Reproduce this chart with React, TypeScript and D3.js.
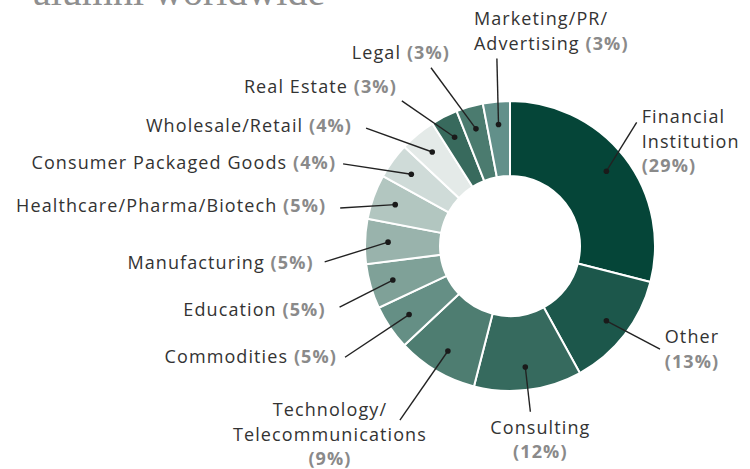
import React from "react";
import * as d3 from "d3";

const categories = [
  "Financial Institution",
  "Other",
  "Consulting",
  "Technology/Telecommunications",
  "Commodities",
  "Education",
  "Manufacturing",
  "Healthcare/Pharma/Biotech",
  "Consumer Packaged Goods",
  "Wholesale/Retail",
  "Real Estate",
  "Legal",
  "Marketing/PR/Advertising",
];
const values = [29, 13, 12, 9, 5, 5, 5, 5, 4, 4, 3, 3, 3];
const sliceColors = [
  "#054538", "#1c574b", "#366a5e", "#4e7d71", "#658f85", "#7fa198", "#99b3ac",
  "#b2c6c0", "#cfdbd8", "#e4eae8", "#386a5d", "#4b7b6f", "#62908a",
];
// Text lines of each label; the percentage goes on its own line or inline with the last line
const labelLines = [
  ["Financial", "Institution"],
  ["Other"],
  ["Consulting"],
  ["Technology/", "Telecommunications"],
  ["Commodities"],
  ["Education"],
  ["Manufacturing"],
  ["Healthcare/Pharma/Biotech"],
  ["Consumer Packaged Goods"],
  ["Wholesale/Retail"],
  ["Real Estate"],
  ["Legal"],
  ["Marketing/PR/", "Advertising "],
];
const pctOwnLine = [true, true, true, true, false, false, false, false, false, false, false, false, false];

// Label layout: leader end in polar coords (deg clockwise from top, radius), text offset and anchor
const leaderEnd: [number, number][] = [
  [45.7, 177], [124.5, 182], [173, 167], [212.3, 206], [236, 199], [250.3, 181],
  [265.1, 186], [282.6, 174], [296.2, 186], [309.3, 186], [323.3, 181], [336.1, 195], [356, 188],
];
const textOffset: [number, number, string][] = [
  [5, 1, "start"], [32, -6, "middle"], [10, 22, "middle"], [-70, -4, "middle"],
  [-8, 6, "end"], [-14, 9, "end"], [-11, 7, "end"], [-14, 4, "end"], [-7, 5, "end"],
  [-14, 4, "end"], [-5, -8, "end"], [19, -9, "end"], [-23, -33, "start"],
];

const W = 750;
const H = 469;
const cx = 510;
const cy = 246;
const outerR = 145;
const innerR = 70;
const dotR = 122;
const lineH = 24.5;

export default function App() {
  const pie = d3.pie<number>().sort(null).value((d) => d);
  const arcs = pie(values);
  const arc = d3.arc<d3.PieArcDatum<number>>().innerRadius(innerR).outerRadius(outerR);
  const dotArc = d3.arc<d3.PieArcDatum<number>>().innerRadius(dotR).outerRadius(dotR);
  const total = d3.sum(values);
  const textStyle = { fontFamily: "'Open Sans', sans-serif", fontSize: 18, letterSpacing: 1.1 };

  return (
    <svg
      width={W}
      height={H}
      viewBox={`0 0 ${W} ${H}`}
      style={{ position: "absolute", left: 0, top: 0, background: "#fff" }}
    >
      <text x={33} y={5} fontFamily="'Liberation Serif', serif" fontSize={40} fill="#8f8f8f">
        alumni worldwide
      </text>
      <g transform={`translate(${cx},${cy})`}>
        {arcs.map((a, i) => (
          <path key={i} d={arc(a) || ""} fill={sliceColors[i]} stroke="#fff" strokeWidth={2} />
        ))}
        {arcs.map((a, i) => {
          const [dx, dy] = dotArc.centroid(a);
          const ang = (leaderEnd[i][0] * Math.PI) / 180;
          const ex = Math.sin(ang) * leaderEnd[i][1];
          const ey = -Math.cos(ang) * leaderEnd[i][1];
          const [ox, oy, anchor] = textOffset[i];
          const lines = labelLines[i];
          const pct = `(${Math.round((values[i] / total) * 100)}%)`;
          return (
            <g key={i}>
              <line x1={dx} y1={dy} x2={ex} y2={ey} stroke="#222" strokeWidth={1.4} />
              <circle cx={dx} cy={dy} r={2.8} fill="#1a1a1a" />
              <text x={ex + ox} y={ey + oy} textAnchor={anchor as any} {...textStyle} fill="#333">
                {lines.map((ln, j) => (
                  <tspan key={j} x={ex + ox} dy={j === 0 ? 0 : lineH}>
                    {ln}
                    {!pctOwnLine[i] && j === lines.length - 1 ? (
                      <tspan fill="#8a8a8a" fontWeight={700}>{" " + pct}</tspan>
                    ) : null}
                  </tspan>
                ))}
                {pctOwnLine[i] ? (
                  <tspan x={ex + ox} dy={lineH} fill="#8a8a8a" fontWeight={700}>
                    {pct}
                  </tspan>
                ) : null}
              </text>
            </g>
          );
        })}
      </g>
    </svg>
  );
}
